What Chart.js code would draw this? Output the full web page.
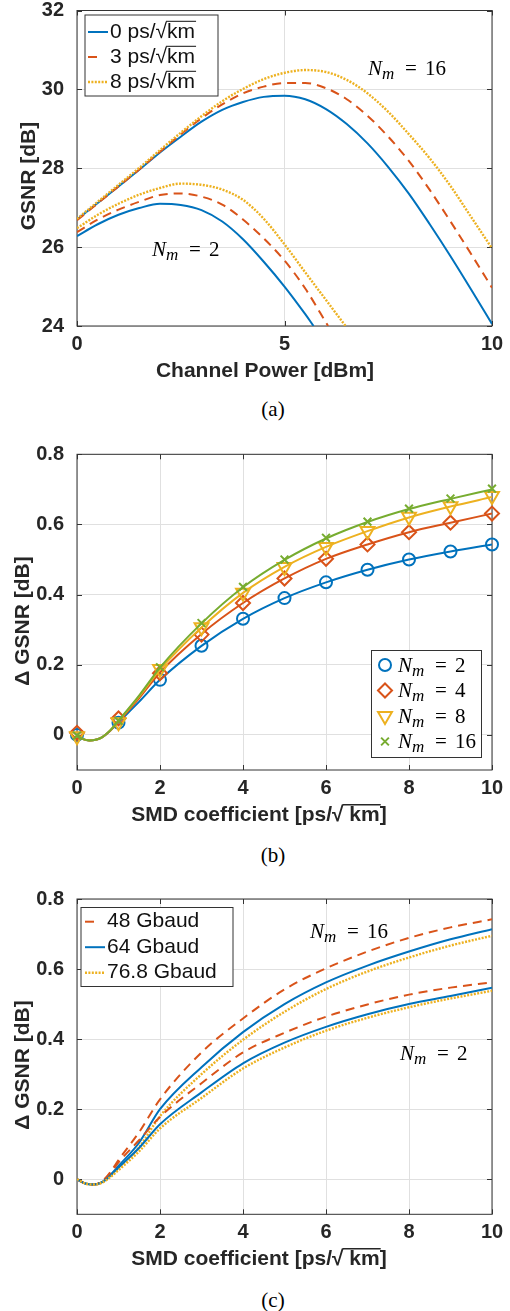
<!DOCTYPE html>
<html>
<head>
<meta charset="utf-8">
<script src="https://cdn.jsdelivr.net/npm/chart.js@4.4.1/dist/chart.umd.min.js"></script>
<style>
  html, body { margin: 0; padding: 0; background: #fff; }
  #page { position: relative; width: 510px; height: 1311px; overflow: hidden; }
  canvas { position: absolute; left: 0; }
  .cap { position: absolute; left: 223px; width: 100px; text-align: center;
         font: 21px "Liberation Serif", "Times New Roman", serif; line-height: 24px; color: #000; }
</style>
</head>
<body>
<div id="page">
  <canvas id="chartA" width="510" height="395" style="top:0"></canvas>
  <div class="cap" style="top:397px">(a)</div>
  <canvas id="chartB" width="510" height="440" style="top:395px"></canvas>
  <div class="cap" style="top:843px">(b)</div>
  <canvas id="chartC" width="510" height="440" style="top:835px"></canvas>
  <div class="cap" style="top:1288px">(c)</div>
</div>
<script>
// ---- (a) GSNR vs channel power ----
const powerDbm = [0, 0.5, 1, 1.5, 2, 2.5, 3, 3.5, 4, 4.5, 5, 5.5, 6, 6.5, 7, 7.5, 8, 8.5, 9, 9.5, 10];
const gsnr16_0ps = [26.70, 27.12, 27.54, 27.96, 28.40, 28.80, 29.18, 29.48, 29.68, 29.81, 29.84, 29.75, 29.50, 29.12, 28.63, 28.03, 27.35, 26.58, 25.77, 24.92, 24.05];
const gsnr16_3ps = [26.68, 27.11, 27.54, 27.97, 28.42, 28.86, 29.27, 29.62, 29.90, 30.07, 30.16, 30.16, 30.03, 29.75, 29.33, 28.80, 28.18, 27.45, 26.65, 25.82, 24.97];
const gsnr16_8ps = [26.72, 27.15, 27.58, 28.01, 28.46, 28.90, 29.32, 29.70, 30.01, 30.26, 30.42, 30.49, 30.44, 30.24, 29.90, 29.43, 28.86, 28.25, 27.55, 26.76, 25.97];
const power2_0ps = [0, 0.5, 1, 1.5, 2, 2.5, 3, 3.5, 4, 4.5, 5, 5.5, 5.7];
const gsnr2_0ps = [26.28, 26.58, 26.82, 26.99, 27.10, 27.07, 26.94, 26.65, 26.20, 25.63, 25.00, 24.30, 24.00];
const power2_3ps = [0, 0.5, 1, 1.5, 2, 2.5, 3, 3.5, 4, 4.5, 5, 5.5, 6.05];
const gsnr2_3ps = [26.38, 26.70, 26.95, 27.15, 27.32, 27.36, 27.28, 27.08, 26.70, 26.22, 25.66, 24.95, 24.00];
const power2_8ps = [0, 0.5, 1, 1.5, 2, 2.5, 3, 3.5, 4, 4.5, 5, 5.5, 6, 6.47];
const gsnr2_8ps = [26.48, 26.82, 27.10, 27.33, 27.50, 27.61, 27.58, 27.46, 27.20, 26.72, 26.07, 25.36, 24.66, 24.00];
const xTicksA = [0, 5, 10];
const yTicksA = [24, 26, 28, 30, 32];

// ---- (b) delta GSNR vs SMD, markers + fitted lines ----
const smdMarks = [0, 1, 2, 3, 4, 5, 6, 7, 8, 9, 10];
const dg2Marks = [0, 0.035, 0.157, 0.254, 0.331, 0.390, 0.435, 0.471, 0.500, 0.523, 0.543];
const dg4Marks = [0.006, 0.047, 0.176, 0.286, 0.376, 0.446, 0.502, 0.543, 0.578, 0.605, 0.631];
const dg8Marks = [-0.004, 0.036, 0.188, 0.307, 0.405, 0.479, 0.536, 0.581, 0.622, 0.652, 0.681];
const dg16Marks = [-0.002, 0.040, 0.193, 0.319, 0.422, 0.500, 0.562, 0.608, 0.645, 0.674, 0.702];
const smdFit = [0, 0.15, 0.3, 0.45, 0.6, 0.8, 1, 1.5, 2, 3, 4, 5, 6, 7, 8, 9, 10];
const dg2Fit = [0, -0.012, -0.016, -0.014, -0.007, 0.012, 0.036, 0.095, 0.157, 0.254, 0.331, 0.390, 0.435, 0.471, 0.500, 0.523, 0.543];
const dg4Fit = [0, -0.012, -0.016, -0.014, -0.007, 0.012, 0.038, 0.105, 0.178, 0.288, 0.376, 0.446, 0.502, 0.543, 0.578, 0.605, 0.631];
const dg8Fit = [0, -0.012, -0.016, -0.014, -0.007, 0.013, 0.040, 0.110, 0.186, 0.306, 0.405, 0.479, 0.536, 0.581, 0.620, 0.651, 0.678];
const dg16Fit = [0, -0.012, -0.016, -0.014, -0.007, 0.013, 0.041, 0.113, 0.192, 0.318, 0.421, 0.499, 0.560, 0.607, 0.644, 0.673, 0.700];

// ---- (c) delta GSNR vs SMD for three symbol rates ----
const smdC = [0, 0.2, 0.4, 0.6, 0.8, 1, 1.5, 2, 3, 4, 5, 6, 7, 8, 9, 10];
const dg16_48 = [0, -0.012, -0.015, -0.006, 0.020, 0.055, 0.135, 0.228, 0.362, 0.459, 0.542, 0.602, 0.650, 0.689, 0.719, 0.742];
const dg16_64 = [0, -0.012, -0.015, -0.008, 0.012, 0.038, 0.105, 0.200, 0.320, 0.420, 0.500, 0.562, 0.610, 0.650, 0.685, 0.714];
const dg16_77 = [0, -0.012, -0.015, -0.009, 0.008, 0.030, 0.092, 0.180, 0.300, 0.398, 0.478, 0.543, 0.593, 0.633, 0.667, 0.695];
const dg2_48 = [0, -0.012, -0.015, -0.007, 0.016, 0.048, 0.112, 0.178, 0.274, 0.362, 0.418, 0.464, 0.499, 0.527, 0.547, 0.562];
const dg2_64 = [0, -0.012, -0.015, -0.009, 0.010, 0.033, 0.090, 0.157, 0.248, 0.331, 0.390, 0.435, 0.471, 0.500, 0.523, 0.547];
const dg2_77 = [0, -0.012, -0.015, -0.010, 0.006, 0.026, 0.080, 0.145, 0.232, 0.316, 0.376, 0.424, 0.461, 0.491, 0.516, 0.538];
const xTicksBC = [0, 2, 4, 6, 8, 10];
const yTicksBC = [0, 0.2, 0.4, 0.6, 0.8];

const BLUE = '#0072BD', ORANGE = '#D95319', YELLOW = '#EDB120', GREEN = '#77AC30';
const TEXT = '#262626', GRID = '#e0e0e0', FRAME = '#333333';
const SANS = '"Liberation Sans", Arial, sans-serif';
const SERIF = '"Liberation Serif", "Times New Roman", serif';
const DASH = [9, 6], DOT = [2, 1.4];

const pts = (xs, ys) => xs.map((x, i) => ({ x: x, y: ys[i] }));

function curve(xs, ys, color, dash) {
  const dotted = dash === DOT;
  return {
    data: pts(xs, ys), borderColor: color, borderWidth: dotted ? 2.4 : 2, borderDash: dash || [],
    pointRadius: 0, cubicInterpolationMode: 'monotone', fill: false
  };
}

function marks(xs, ys, color, style, radius, rotation) {
  return {
    data: pts(xs, ys), showLine: false, pointStyle: style, pointRadius: radius,
    pointRotation: rotation || 0, pointBorderColor: color, pointBorderWidth: 2,
    pointBackgroundColor: 'rgba(0,0,0,0)', clip: false
  };
}

function axes(o) {
  const tickFont = { family: SANS, size: 20, weight: 'bold' };
  return {
    x: {
      type: 'linear', min: o.xMin, max: o.xMax,
      afterBuildTicks: s => { s.ticks = o.xTicks.map(v => ({ value: v })); },
      ticks: { padding: 6, color: TEXT, font: tickFont, maxRotation: 0, autoSkip: false, callback: v => String(v) },
      grid: { color: GRID, drawTicks: false },
      border: { display: false },
      afterFit: s => { s.height = o.xH; s.paddingLeft = 0; s.paddingRight = 0; }
    },
    y: {
      type: 'linear', min: o.yMin, max: o.yMax,
      afterBuildTicks: s => { s.ticks = o.yTicks.map(v => ({ value: v })); },
      ticks: { padding: 13, color: TEXT, font: tickFont, autoSkip: false, callback: v => String(v) },
      grid: { color: GRID, drawTicks: false },
      border: { display: false },
      afterFit: s => { s.width = 77; s.paddingTop = 0; s.paddingBottom = 0; }
    }
  };
}

// frame box with inward ticks, then whatever extra text the panel needs
function decor(id, extras) {
  return {
    id: id,
    beforeDatasetsDraw(chart) {
      const { ctx, chartArea: a, scales } = chart;
      ctx.save();
      ctx.strokeStyle = FRAME;
      ctx.lineWidth = 1;
      ctx.strokeRect(a.left, a.top, a.right - a.left, a.bottom - a.top);
      ctx.beginPath();
      scales.x.ticks.forEach(t => {
        const px = Math.round(scales.x.getPixelForValue(t.value)) + 0.5;
        ctx.moveTo(px, a.bottom); ctx.lineTo(px, a.bottom - 5);
        ctx.moveTo(px, a.top); ctx.lineTo(px, a.top + 5);
      });
      scales.y.ticks.forEach(t => {
        const py = Math.round(scales.y.getPixelForValue(t.value)) + 0.5;
        ctx.moveTo(a.left, py); ctx.lineTo(a.left + 5, py);
        ctx.moveTo(a.right, py); ctx.lineTo(a.right - 5, py);
      });
      ctx.stroke();
      ctx.restore();
    },
    afterDraw(chart) {
      chart.ctx.save();
      extras(chart.ctx, chart);
      chart.ctx.restore();
    }
  };
}

function rootText(ctx, pre, rad, post, x, y, align, lw) {
  const wPre = ctx.measureText(pre).width;
  const wSq = ctx.measureText('\u221A').width;
  const wRad = ctx.measureText(rad).width;
  const wPost = ctx.measureText(post).width;
  const total = wPre + wSq + wRad + wPost;
  const x0 = align === 'center' ? x - total / 2 : x;
  ctx.textAlign = 'left';
  ctx.fillText(pre, x0, y);
  ctx.fillText('\u221A', x0 + wPre, y);
  ctx.fillText(rad, x0 + wPre + wSq, y);
  ctx.fillText(post, x0 + wPre + wSq + wRad, y);
  const top = ctx.measureText('\u221A').actualBoundingBoxAscent;
  ctx.fillRect(x0 + wPre + wSq - 1, y - top, wRad + 2, lw);
}

function nm(ctx, x, y, val) {
  ctx.save();
  ctx.fillStyle = '#000';
  ctx.textAlign = 'left';
  ctx.textBaseline = 'alphabetic';
  ctx.font = 'italic 21px ' + SERIF;
  ctx.fillText('N', x, y);
  ctx.font = 'italic 17px ' + SERIF;
  ctx.fillText('m', x + 14, y + 4);
  ctx.font = '21px ' + SERIF;
  ctx.fillText('=', x + 37, y);
  ctx.fillText(val, x + 57, y);
  ctx.restore();
}

function lineSample(ctx, x1, x2, y, color, dash) {
  ctx.save();
  ctx.strokeStyle = color;
  ctx.lineWidth = dash === DOT ? 2.4 : 2;
  ctx.setLineDash(dash);
  ctx.beginPath();
  ctx.moveTo(x1, y); ctx.lineTo(x2, y);
  ctx.stroke();
  ctx.restore();
}

function legendBox(ctx, x, y, w, h) {
  ctx.fillStyle = '#fff';
  ctx.fillRect(x, y, w, h);
  ctx.strokeStyle = FRAME;
  ctx.lineWidth = 1;
  ctx.strokeRect(x, y, w, h);
}

function yTitle(ctx, str, x, cy) {
  ctx.save();
  ctx.translate(x, cy);
  ctx.rotate(-Math.PI / 2);
  ctx.fillStyle = TEXT;
  ctx.font = 'bold 21px ' + SANS;
  ctx.textAlign = 'center';
  ctx.textBaseline = 'alphabetic';
  ctx.fillText(str, 0, 0);
  ctx.restore();
}

function build(id, datasets, o, extras) {
  datasets.forEach((d, i) => { d.order = datasets.length - i; });
  return new Chart(document.getElementById(id), {
    type: 'line',
    data: { datasets: datasets },
    options: {
      responsive: false, animation: false, events: [],
      layout: { padding: { top: o.top, right: 18, bottom: 0, left: 0 } },
      scales: axes(o),
      plugins: { legend: { display: false }, tooltip: { enabled: false } }
    },
    plugins: [decor(id + 'Decor', extras)]
  });
}

// ---------- panel (a) ----------
build('chartA', [
  curve(powerDbm, gsnr16_0ps, BLUE),
  curve(powerDbm, gsnr16_3ps, ORANGE, DASH),
  curve(powerDbm, gsnr16_8ps, YELLOW, DOT),
  curve(power2_0ps, gsnr2_0ps, BLUE),
  curve(power2_3ps, gsnr2_3ps, ORANGE, DASH),
  curve(power2_8ps, gsnr2_8ps, YELLOW, DOT)
], { xMin: 0, xMax: 10, yMin: 24, yMax: 32, xTicks: xTicksA, yTicks: yTicksA, top: 10.5, xH: 69 },
(ctx) => {
  ctx.fillStyle = TEXT;
  ctx.font = 'bold 21px ' + SANS;
  ctx.textAlign = 'center';
  ctx.textBaseline = 'alphabetic';
  ctx.fillText('Channel Power [dBm]', 265, 377);
  yTitle(ctx, 'GSNR [dB]', 35, 176);

  legendBox(ctx, 85, 15, 133, 81);
  const rows = [['0', BLUE, []], ['3', ORANGE, [9, 20]], ['8', YELLOW, DOT]];
  rows.forEach((r, i) => {
    const cy = 32 + i * 25;
    lineSample(ctx, 88, 108, cy, r[1], r[2]);
    ctx.fillStyle = '#111';
    ctx.font = '21px ' + SANS;
    ctx.textBaseline = 'middle';
    rootText(ctx, r[0] + ' ps/', 'km', '', 110, cy, 'left', 1);
  });

  nm(ctx, 368, 75, '16');
  nm(ctx, 152, 256, '2');
});

// ---------- panel (b) ----------
build('chartB', [
  curve(smdFit, dg2Fit, BLUE),
  marks(smdMarks, dg2Marks, BLUE, 'circle', 6),
  curve(smdFit, dg4Fit, ORANGE),
  marks(smdMarks, dg4Marks, ORANGE, 'rectRot', 7),
  curve(smdFit, dg8Fit, YELLOW),
  marks(smdMarks, dg8Marks, YELLOW, 'triangle', 8, 180),
  curve(smdFit, dg16Fit, GREEN),
  marks(smdMarks, dg16Marks, GREEN, 'crossRot', 5.5)
], { xMin: 0, xMax: 10, yMin: -0.1, yMax: 0.8, xTicks: xTicksBC, yTicks: yTicksBC, top: 59.3, xH: 65 },
(ctx) => {
  ctx.fillStyle = TEXT;
  ctx.font = 'bold 21px ' + SANS;
  ctx.textBaseline = 'alphabetic';
  rootText(ctx, 'SMD coefficient [ps/', ' km', ']', 259, 426, 'center', 1.5);
  yTitle(ctx, '\u0394 GSNR [dB]', 29, 226);

  legendBox(ctx, 371.5, 255.5, 110, 107);
  const rows = [[BLUE, 'circle', 6, 0, '2'], [ORANGE, 'rectRot', 7, 0, '4'],
                [YELLOW, 'triangle', 8, 180, '8'], [GREEN, 'crossRot', 5.5, 0, '16']];
  rows.forEach((r, i) => {
    const cy = 270 + i * 25.5;
    ctx.save();
    ctx.strokeStyle = r[0];
    ctx.fillStyle = 'rgba(0,0,0,0)';
    ctx.lineWidth = 2;
    Chart.helpers.drawPoint(ctx, { pointStyle: r[1], radius: r[2], rotation: r[3], borderWidth: 2 }, 385, cy);
    ctx.restore();
    nm(ctx, 398, cy + 6.7, r[4]);
  });
});

// ---------- panel (c) ----------
build('chartC', [
  curve(smdC, dg16_48, ORANGE, DASH),
  curve(smdC, dg16_64, BLUE),
  curve(smdC, dg16_77, YELLOW, DOT),
  curve(smdC, dg2_48, ORANGE, DASH),
  curve(smdC, dg2_64, BLUE),
  curve(smdC, dg2_77, YELLOW, DOT)
], { xMin: 0, xMax: 10, yMin: -0.1, yMax: 0.8, xTicks: xTicksBC, yTicks: yTicksBC, top: 64, xH: 60.7 },
(ctx) => {
  ctx.fillStyle = TEXT;
  ctx.font = 'bold 21px ' + SANS;
  ctx.textBaseline = 'alphabetic';
  rootText(ctx, 'SMD coefficient [ps/', ' km', ']', 259, 430, 'center', 1.5);
  yTitle(ctx, '\u0394 GSNR [dB]', 29, 230);

  legendBox(ctx, 81, 72.5, 152, 79);
  const rows = [['48 Gbaud', ORANGE, [9, 20]], ['64 Gbaud', BLUE, []], ['76.8 Gbaud', YELLOW, DOT]];
  rows.forEach((r, i) => {
    const cy = 86.7 + i * 25.5;
    lineSample(ctx, 85, 105, cy, r[1], r[2]);
    ctx.fillStyle = '#111';
    ctx.font = '21px ' + SANS;
    ctx.textAlign = 'left';
    ctx.textBaseline = 'middle';
    ctx.fillText(r[0], 107, cy);
  });

  nm(ctx, 310, 103, '16');
  nm(ctx, 400, 225, '2');
});
</script>
</body>
</html>
